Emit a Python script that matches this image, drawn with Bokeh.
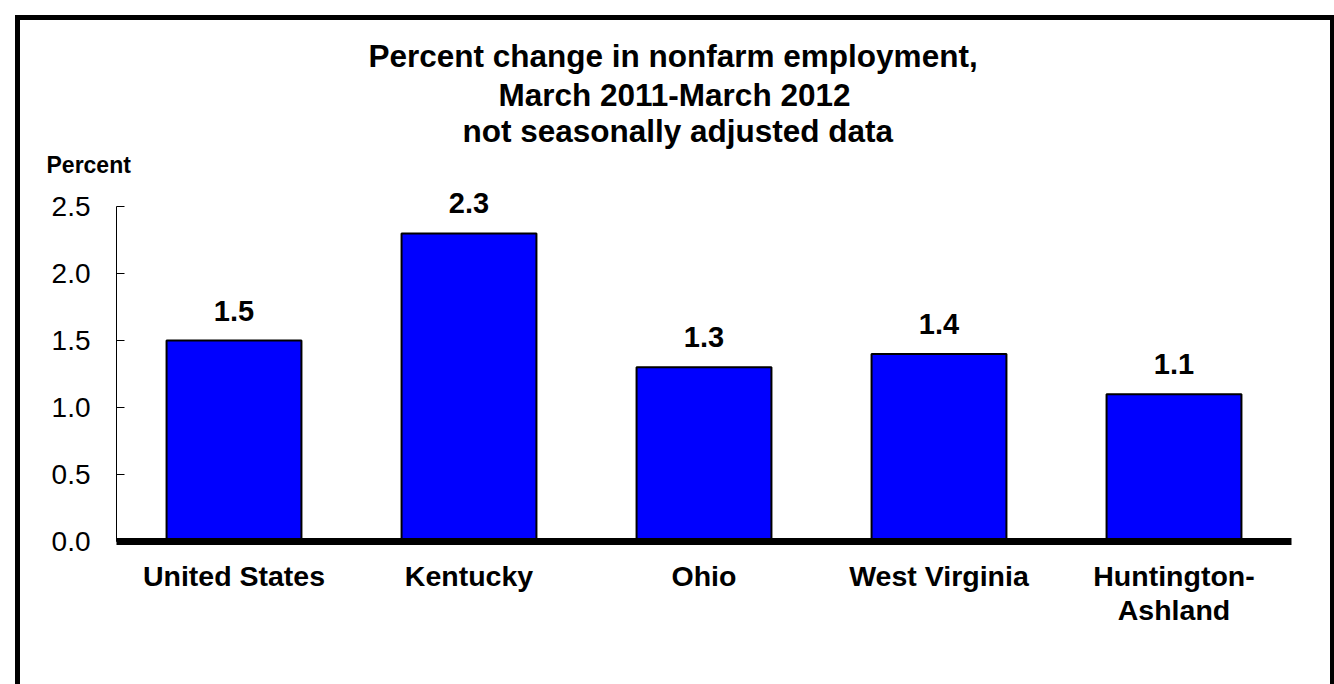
from bokeh.plotting import figure
from bokeh.models import (Range1d, FactorRange, FixedTicker, ColumnDataSource,
                          LabelSet, Title, PrintfTickFormatter)
from bokeh.core.properties import value
from bokeh.embed import file_html
from bokeh.resources import INLINE

# ---- data ----
categories = ["United States", "Kentucky", "Ohio", "West Virginia", "Huntington-\nAshland"]
values = [1.5, 2.3, 1.3, 1.4, 1.1]
value_labels = ["1.5", "2.3", "1.3", "1.4", "1.1"]
y_ticks = [0.0, 0.5, 1.0, 1.5, 2.0, 2.5]
y_tick_labels = ["0.0", "0.5", "1.0", "1.5", "2.0", "2.5"]
title_lines = ["Percent change in nonfarm employment,",
               "March 2011-March 2012",
               "not seasonally adjusted data"]
y_label = "Percent"

FONT = "Liberation Sans"

p = figure(width=1334, height=684,
           x_range=FactorRange(factors=categories),
           y_range=Range1d(0, 2.65),
           output_backend="svg", toolbar_location=None,
           min_border_left=116, min_border_right=43,
           min_border_top=186, min_border_bottom=143)
p.xgrid.visible = False
p.ygrid.visible = False
p.outline_line_color = None
p.background_fill_color = "white"
p.border_fill_color = None
# outer frame of the chart (left, top and right edges; bottom lies below the page)
p.styles = {
    "background": ("linear-gradient(#000,#000) 15px 15px / 5px 669px no-repeat, "
                   "linear-gradient(#000,#000) 15px 15px / 1319px 5px no-repeat, "
                   "linear-gradient(#000,#000) 1330px 15px / 4px 669px no-repeat, "
                   "#ffffff"),
}

src = ColumnDataSource(dict(cat=categories, val=values, lab=value_labels))
p.vbar(x="cat", top="val", bottom=0, width=0.574, source=src,
       fill_color="#0000FF", line_color="black", line_width=2)

p.add_layout(LabelSet(x="cat", y="val", text="lab", source=src,
                      text_align="center", text_baseline="alphabetic", y_offset=20,
                      text_font=value(FONT), text_font_style="bold",
                      text_font_size="29px", text_color="black"))

# y axis
ya = p.yaxis[0]
ya.ticker = FixedTicker(ticks=y_ticks)
ya.formatter = PrintfTickFormatter(format="%.1f")
ya.major_label_overrides = {t: l for t, l in zip(y_ticks, y_tick_labels)}
ya.bounds = (y_ticks[0], y_ticks[-1])
ya.major_tick_in = 8
ya.major_tick_out = 0
ya.minor_tick_line_color = None
ya.axis_line_color = "black"
ya.axis_line_width = 1
ya.major_tick_line_color = "black"
ya.major_label_text_font = FONT
ya.major_label_text_font_size = "28px"
ya.major_label_text_color = "black"
ya.major_label_standoff = 26

# x axis
xa = p.xaxis[0]
xa.axis_line_color = "black"
xa.axis_line_width = 7
xa.major_tick_line_color = None
xa.major_tick_in = 0
xa.major_tick_out = 0
xa.minor_tick_line_color = None
xa.major_label_text_font = FONT
xa.major_label_text_font_style = "bold"
xa.major_label_text_font_size = "28.5px"
xa.major_label_text_color = "black"
xa.major_label_text_line_height = 1.08
xa.major_label_standoff = 18

# texts above the frame, stacked from the frame upwards
p.add_layout(Title(text=y_label, align="left", offset=-70, standoff=18,
                   text_font=FONT, text_font_style="bold", text_font_size="23px",
                   text_color="black"), "above")
stand = [-17, 13, -11]
offsets = {title_lines[0]: 252, title_lines[1]: 382, title_lines[2]: 346}
for line, s in zip(reversed(title_lines), stand):
    p.add_layout(Title(text=line, align="left", offset=offsets[line], standoff=s,
                       text_font=FONT, text_font_style="bold", text_font_size="31.5px",
                       text_color="black"), "above")

open("out.html", "w").write(file_html(p, INLINE))
